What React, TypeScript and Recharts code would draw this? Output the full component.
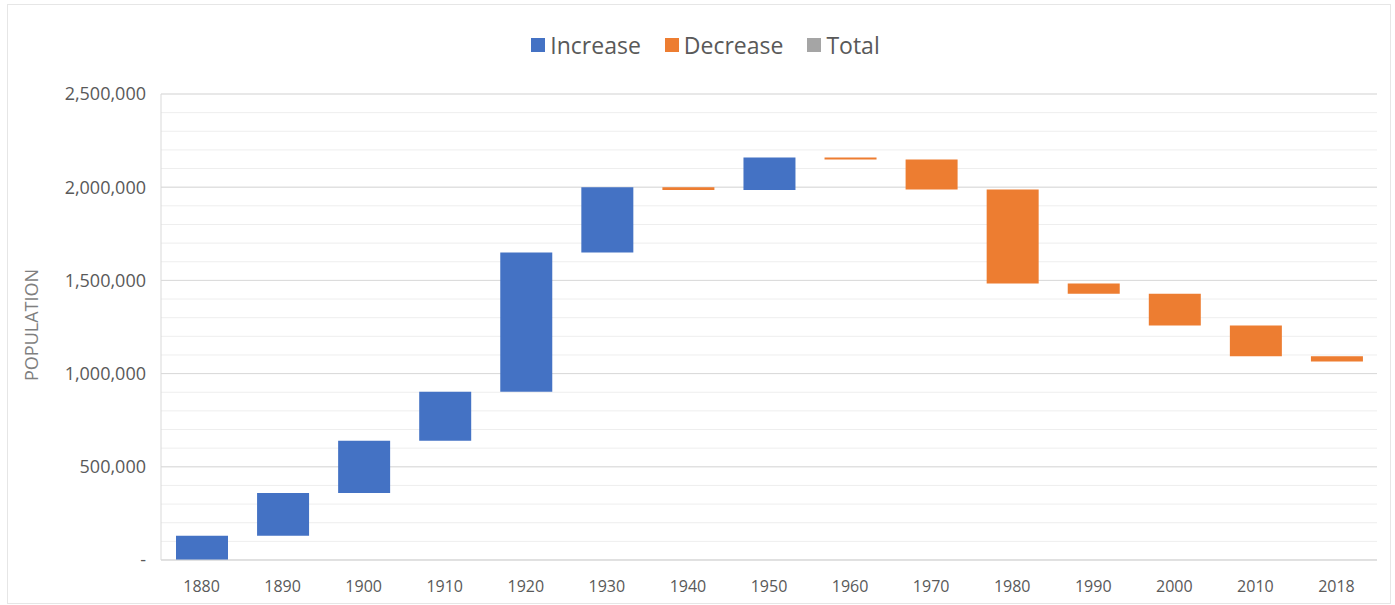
import React from "react";
import {
  BarChart,
  Bar,
  XAxis,
  YAxis,
  CartesianGrid,
  Legend,
} from "recharts";

// census years and the change in population from the previous count
const years = [
  "1880", "1890", "1900", "1910", "1920", "1930", "1940", "1950",
  "1960", "1970", "1980", "1990", "2000", "2010", "2018",
];
const changes = [
  130000, 230000, 280000, 262000, 748000, 350000, -15000, 175000,
  -12000, -160000, -505000, -55000, -170000, -165000, -28000,
];
const gridTicks = [
  0, 100000, 200000, 300000, 400000, 500000, 600000, 700000, 800000, 900000,
  1000000, 1100000, 1200000, 1300000, 1400000, 1500000, 1600000, 1700000,
  1800000, 1900000, 2000000, 2100000, 2200000, 2300000, 2400000, 2500000,
];
const majorTicks = [0, 500000, 1000000, 1500000, 2000000, 2500000];
const legendOrder = ["Increase", "Decrease", "Total"];

const BLUE = "#4472C4";
const ORANGE = "#ED7D31";
const GREY = "#A5A5A5";
const FONT = "'Open Sans', sans-serif";

// waterfall rows: invisible base + rise or fall
let running = 0;
const data = years.map((year, i) => {
  const next = running + changes[i];
  const row = {
    year,
    base: Math.min(running, next),
    increase: changes[i] > 0 ? changes[i] : 0,
    decrease: changes[i] < 0 ? -changes[i] : 0,
    total: 0,
  };
  running = next;
  return row;
});

const formatY = (v: number) => {
  if (!majorTicks.includes(v)) return "";
  if (v === 0) return "-";
  return v.toLocaleString("en-US");
};

const renderLegend = (props: any) => {
  const items = (props.payload || [])
    .filter((p: any) => legendOrder.includes(p.value))
    .sort(
      (a: any, b: any) =>
        legendOrder.indexOf(a.value) - legendOrder.indexOf(b.value)
    );
  return (
    <div
      style={{
        display: "flex",
        justifyContent: "center",
        alignItems: "center",
        gap: 24,
        paddingLeft: 16,
        fontFamily: FONT,
        fontSize: 23,
        color: "#595959",
      }}
    >
      {items.map((p: any) => (
        <div key={p.value} style={{ display: "flex", alignItems: "center" }}>
          <div
            style={{
              width: 14,
              height: 14,
              background: p.color,
              marginRight: 5,
            }}
          />
          <span>{p.value}</span>
        </div>
      ))}
    </div>
  );
};

const renderYLabel = () => (
  <text
    x={31}
    y={325}
    transform="rotate(-90, 31, 325)"
    textAnchor="middle"
    dominantBaseline="central"
    fill="#7f7f7f"
    fontSize={18}
    fontFamily={FONT}
  >
    POPULATION
  </text>
);

export default function App() {
  return (
    <div
      style={{
        position: "absolute",
        left: 0,
        top: 0,
        width: 1395,
        height: 605,
        background: "#fff",
      }}
    >
      <div
        style={{
          position: "absolute",
          left: 7,
          top: 4,
          width: 1382,
          height: 598,
          border: "1px solid #e6e6e6",
        }}
      />
      <div style={{ position: "absolute", left: 0, top: 0 }}>
        <BarChart
          width={1395}
          height={605}
          data={data}
          margin={{ top: 94, right: 18, bottom: 15, left: 0 }}
          barSize={52}
        >
          <CartesianGrid
            vertical={false}
            stroke="#eeeeee"
            horizontalValues={gridTicks}
          />
          <CartesianGrid
            vertical={false}
            stroke="#d9d9d9"
            horizontalValues={majorTicks}
          />
          <XAxis
            dataKey="year"
            axisLine={{ stroke: "#d9d9d9" }}
            tickLine={false}
            tickMargin={15}
            tick={{ fill: "#595959", fontSize: 16, fontFamily: FONT }}
          />
          <YAxis
            width={161}
            domain={[0, 2500000]}
            ticks={gridTicks}
            interval={0}
            tickFormatter={formatY}
            axisLine={{ stroke: "#d9d9d9" }}
            tickLine={false}
            tickMargin={9}
            tick={{ fill: "#595959", fontSize: 18, fontFamily: FONT }}
            label={renderYLabel}
          />
          <Legend
            verticalAlign="middle"
            align="center"
            layout="horizontal"
            wrapperStyle={{ top: 29, left: 0, width: 1395 }}
            content={renderLegend}
          />
          <Bar
            dataKey="base"
            stackId="w"
            fill="transparent"
            legendType="none"
            isAnimationActive={false}
          />
          <Bar
            dataKey="increase"
            name="Increase"
            stackId="w"
            fill={BLUE}
            isAnimationActive={false}
          />
          <Bar
            dataKey="decrease"
            name="Decrease"
            stackId="w"
            fill={ORANGE}
            isAnimationActive={false}
          />
          <Bar
            dataKey="total"
            name="Total"
            stackId="w"
            fill={GREY}
            isAnimationActive={false}
          />
        </BarChart>
      </div>
    </div>
  );
}
